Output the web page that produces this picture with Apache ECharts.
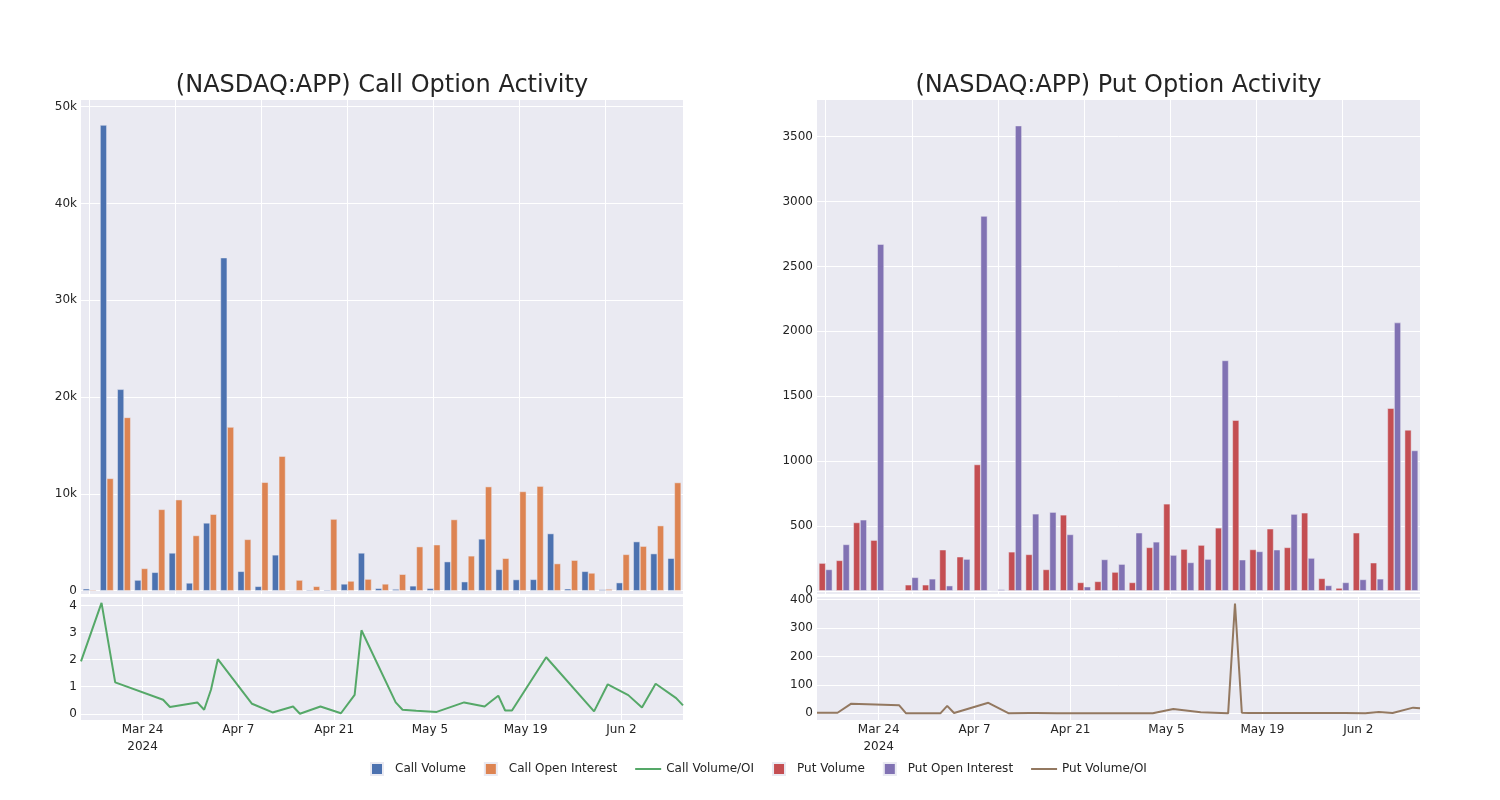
<!DOCTYPE html>
<html>
<head>
<meta charset="utf-8">
<script src="https://cdn.jsdelivr.net/npm/echarts@6/dist/echarts.min.js"></script>
<style>
html,body{margin:0;padding:0;background:#fff;}
#chart{width:1500px;height:800px;}
</style>
</head>
<body>
<div id="chart"></div>
<script>
const dates = ['2024-03-15','2024-03-18','2024-03-20','2024-03-27','2024-03-28','2024-04-01','2024-04-02','2024-04-03','2024-04-04','2024-04-09','2024-04-12','2024-04-15','2024-04-16','2024-04-19','2024-04-22','2024-04-24','2024-04-25','2024-04-30','2024-05-01','2024-05-03','2024-05-06','2024-05-10','2024-05-13','2024-05-14','2024-05-15','2024-05-16','2024-05-17','2024-05-22','2024-05-29','2024-05-31','2024-06-03','2024-06-05','2024-06-07','2024-06-10','2024-06-11'];

const callVolume = [200, 48100, 20800, 1100, 1900, 3900, 800, 7000, 34400, 2000, 450, 3700, 0, 100, 100, 700, 3900, 250, 170, 500, 250, 3000, 930, 5350, 2200, 1150, 1170, 5900, 200, 2000, 120, 830, 5070, 3830, 3350];
const callOpenInterest = [100, 11600, 17900, 2300, 8400, 9400, 5700, 7900, 16900, 5300, 11200, 13900, 1100, 450, 7400, 1000, 1200, 700, 1700, 4550, 4750, 7350, 3600, 10750, 3350, 10250, 10800, 2800, 3150, 1830, 170, 3750, 4600, 6720, 11170];
const callVolOI = [1.94, 4.1, 1.16, 0.52, 0.25, 0.42, 0.15, 0.89, 2.02, 0.37, 0.05, 0.27, 0, 0.27, 0.02, 0.7, 3.09, 0.42, 0.15, 0.11, 0.07, 0.42, 0.27, 0.47, 0.67, 0.12, 0.12, 2.09, 0.09, 1.09, 0.69, 0.23, 1.11, 0.58, 0.31];

const putVolume = [213, 234, 526, 390, 5, 46, 46, 316, 262, 973, 0, 300, 280, 164, 585, 64, 72, 144, 64, 334, 670, 321, 352, 485, 1315, 318, 478, 334, 601, 95, 21, 447, 216, 1407, 1240];
const putOpenInterest = [164, 357, 547, 2672, 5, 103, 92, 39, 244, 2888, 10, 3585, 593, 606, 434, 31, 241, 205, 447, 377, 275, 218, 244, 1775, 239, 303, 316, 591, 252, 41, 64, 87, 92, 2067, 1081];
const putVolOI = [2, 2, 34, 28, 0, 0, 0, 26, 1, 37, 0, 1, 1, 0.5, 0.5, 0.5, 0.5, 0.5, 0.5, 0, 15, 4, 1, 0, 386, 2, 1, 1, 1, 1, 0, 5, 1, 20, 18];

const dateTicks = ['2024-03-24','2024-04-07','2024-04-21','2024-05-05','2024-05-19','2024-06-02'];
const callBarTicks = [0, 10000, 20000, 30000, 40000, 50000];
const putBarTicks = [0, 500, 1000, 1500, 2000, 2500, 3000, 3500];
const callRatioTicks = [0, 1, 2, 3, 4];
const putRatioTicks = [0, 100, 200, 300, 400];

const C = {
  callVol: '#4C72B0', callOI: '#DD8452', callRatio: '#55A868',
  putVol: '#C44E52', putOI: '#8172B3', putRatio: '#937860',
  bg: '#EAEAF2', text: '#242424'
};
const FONT = 'DejaVu Sans';
const MONTHS = ['Jan','Feb','Mar','Apr','May','Jun','Jul','Aug','Sep','Oct','Nov','Dec'];
const ts = s => { const p = s.split('-').map(Number); return Date.UTC(p[0], p[1]-1, p[2]); };
const dateTickTs = dateTicks.map(ts);

function dateLabel(v) {
  const d = new Date(v);
  let s = MONTHS[d.getUTCMonth()] + ' ' + d.getUTCDate();
  if (v === dateTickTs[0]) s += '\n' + d.getUTCFullYear();
  return s;
}

const L = {x: 81, w: 602};
const R = {x: 817, w: 603};
const barTop = 100, barH = 494, lineTop = 597, lineH = 123;

function grid(p, top, h) {
  return {left: p.x, width: p.w, top: top, height: h, show: true, backgroundColor: C.bg, borderWidth: 0, containLabel: false};
}
const gridLine = {show: true, lineStyle: {color: '#ffffff', width: 1}};
const labelStyle = {color: C.text, fontFamily: FONT, fontSize: 12};

function catAxis(gi) {
  return {
    type: 'category', gridIndex: gi, data: dates, boundaryGap: true,
    axisLine: {show: false}, axisLabel: {show: false},
    axisTick: {show: false, interval: 4, alignWithLabel: true},
    splitLine: Object.assign({interval: 4, alignWithLabel: true}, gridLine)
  };
}
function dateAxis(gi) {
  return {
    type: 'value', gridIndex: gi, min: ts(dates[0]), max: ts(dates[dates.length-1]),
    axisLine: {show: false},
    axisTick: {show: false, customValues: dateTickTs},
    axisLabel: Object.assign({customValues: dateTickTs, formatter: dateLabel, margin: 1, lineHeight: 17}, labelStyle),
    splitLine: gridLine
  };
}
function valAxis(gi, min, max, ticks, fmt) {
  return {
    type: 'value', gridIndex: gi, min: min, max: max,
    axisLine: {show: false},
    axisTick: {show: false, customValues: ticks},
    axisLabel: Object.assign({customValues: ticks, margin: 4, formatter: fmt}, labelStyle),
    splitLine: gridLine
  };
}
const kfmt = v => v === 0 ? '0' : (v / 1000) + 'k';
const plain = v => String(v);

function barSeries(name, data, color, xi, yi) {
  return {
    name: name, type: 'bar', xAxisIndex: xi, yAxisIndex: yi, data: data,
    barGap: '0%', barCategoryGap: '22%',
    itemStyle: {color: color, borderColor: '#EAEAF2', borderWidth: 0.5},
    emphasis: {disabled: true}
  };
}
function lineSeries(name, data, color, xi, yi) {
  return {
    name: name, type: 'line', xAxisIndex: xi, yAxisIndex: yi,
    data: dates.map((d, i) => [ts(d), data[i]]),
    showSymbol: false, symbol: 'none',
    lineStyle: {color: color, width: 2}, itemStyle: {color: color},
    emphasis: {disabled: true}
  };
}

const sq = 'path://M0,0 h12 v12 h-12 z';
const ln = 'path://M0,0 h26 v2 h-26 z';

const option = {
  animation: false,
  backgroundColor: '#ffffff',
  textStyle: {fontFamily: FONT},
  title: [
    {text: '(NASDAQ:APP) Call Option Activity', left: L.x + L.w / 2 - 5, top: 69, textAlign: 'center',
     textStyle: {fontFamily: FONT, fontSize: 24, fontWeight: 'normal', color: C.text}},
    {text: '(NASDAQ:APP) Put Option Activity', left: R.x + R.w / 2 - 5, top: 69, textAlign: 'center',
     textStyle: {fontFamily: FONT, fontSize: 24, fontWeight: 'normal', color: C.text}}
  ],
  legend: {
    bottom: 19, left: 365, itemWidth: 26, itemHeight: 12, itemGap: 18,
    textStyle: {fontFamily: FONT, fontSize: 12, color: C.text},
    symbolKeepAspect: true,
    data: [
      {name: 'Call Volume', icon: sq},
      {name: 'Call Open Interest', icon: sq},
      {name: 'Call Volume/OI', icon: ln},
      {name: 'Put Volume', icon: sq},
      {name: 'Put Open Interest', icon: sq},
      {name: 'Put Volume/OI', icon: ln}
    ]
  },
  grid: [grid(L, barTop, barH), grid(L, lineTop, lineH), grid(R, barTop, barH), grid(R, lineTop, lineH)],
  xAxis: [catAxis(0), dateAxis(1), catAxis(2), dateAxis(3)],
  yAxis: [
    valAxis(0, -340, 50690, callBarTicks, kfmt),
    valAxis(1, -0.23, 4.32, callRatioTicks, plain),
    valAxis(2, -25, 3783, putBarTicks, plain),
    valAxis(3, -23.5, 409, putRatioTicks, plain)
  ],
  series: [
    barSeries('Call Volume', callVolume, C.callVol, 0, 0),
    barSeries('Call Open Interest', callOpenInterest, C.callOI, 0, 0),
    lineSeries('Call Volume/OI', callVolOI, C.callRatio, 1, 1),
    barSeries('Put Volume', putVolume, C.putVol, 2, 2),
    barSeries('Put Open Interest', putOpenInterest, C.putOI, 2, 2),
    lineSeries('Put Volume/OI', putVolOI, C.putRatio, 3, 3)
  ]
};
const chart = echarts.init(document.getElementById('chart'), null, {renderer: 'canvas'});
chart.setOption(option);
</script>
</body>
</html>
